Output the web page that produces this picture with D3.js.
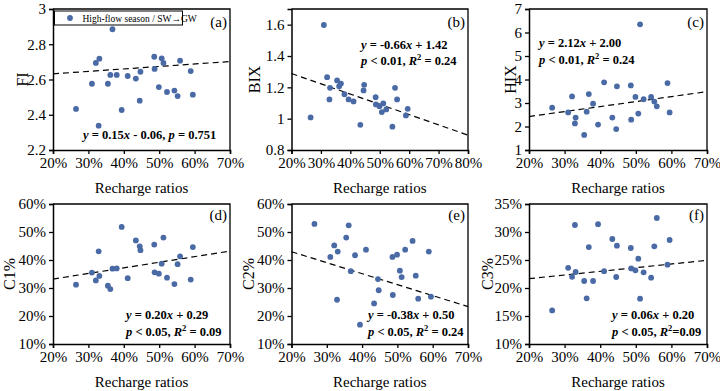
<!DOCTYPE html>
<html>
<head>
<meta charset="utf-8">
<script src="https://cdn.jsdelivr.net/npm/d3@7"></script>
<style>
  body { margin: 0; background: #fff; }
  text { font-family: "Liberation Serif", "Times New Roman", serif; fill: #000; }
</style>
</head>
<body>
<svg id="chart" width="720" height="391"></svg>
<script>
// recharge ratio of each sample (shared by all six panels)
const recharge = [0.265, 0.310, 0.321, 0.329, 0.331, 0.355, 0.362, 0.368, 0.380, 0.394, 0.411, 0.434, 0.445,
                  0.447, 0.486, 0.487, 0.499, 0.507, 0.512, 0.522, 0.543, 0.552, 0.559, 0.589, 0.595];

const fiVals  = [2.433, 2.576, 2.694, 2.338, 2.718, 2.576, 2.626, 2.885, 2.626, 2.427, 2.620, 2.605, 2.480,
                 2.644, 2.729, 2.660, 2.557, 2.720, 2.694, 2.529, 2.537, 2.506, 2.707, 2.648, 2.514];
const bixVals = [1.008, 1.598, 1.265, 1.123, 1.197, 1.244, 1.207, 1.224, 1.156, 1.123, 1.110, 0.961, 1.180,
                 1.216, 1.137, 1.091, 1.080, 1.042, 1.097, 1.059, 0.949, 1.197, 1.123, 1.021, 1.063];
const hixVals = [2.80, 2.60, 3.28, 2.13, 2.38, 1.64, 2.63, 3.38, 2.97, 2.08, 3.88, 2.38, 1.89,
                 3.71, 3.75, 2.29, 3.26, 2.55, 6.35, 3.16, 3.26, 3.06, 2.86, 3.85, 2.60];
const c1Vals  = [0.312, 0.355, 0.327, 0.431, 0.343, 0.308, 0.296, 0.369, 0.370, 0.518, 0.335, 0.470, 0.449,
                 0.435, 0.455, 0.356, 0.351, 0.387, 0.480, 0.337, 0.314, 0.385, 0.413, 0.330, 0.446];
const c2Vals  = [0.529, 0.411, 0.452, 0.258, 0.430, 0.480, 0.524, 0.360, 0.417, 0.169, 0.437, 0.245, 0.332,
                 0.292, 0.411, 0.275, 0.419, 0.362, 0.339, 0.437, 0.468, 0.344, 0.262, 0.430, 0.269];
const c3Vals  = [0.160, 0.236, 0.220, 0.3125, 0.2286, 0.2125, 0.1815, 0.273, 0.2125, 0.314, 0.230, 0.2875, 0.2196,
                 0.2756, 0.2714, 0.235, 0.2315, 0.2524, 0.181, 0.228, 0.2185, 0.2744, 0.325, 0.2417, 0.2857];

// dashed fit lines, as drawn [slope, intercept]
const fitA = [0.14, 2.604];
const fitB = [-0.655, 1.419];
const fitC = [2.12, 2.00];
const fitD = [0.20, 0.292];
const fitE = [-0.392, 0.508];
const fitF = [0.0654, 0.2036];

const xTicks6 = [0.2, 0.3, 0.4, 0.5, 0.6, 0.7];
const xTicks7 = [0.2, 0.3, 0.4, 0.5, 0.6, 0.7, 0.8];

const svg = d3.select('#chart');
const dotColor = '#4a6aa6';
const pct = d3.format('.0%');
const num = d => String(+d.toFixed(2));

const cols = [[53, 230], [291.5, 468], [529, 707]];
const rows = [[9, 150], [204, 344]];

// equation text: arrays of [text, italic, sup]
const panels = [
  { tag: '(a)', col: 0, row: 0, vals: fiVals, ydom: [2.2, 3], yticks: [2.2, 2.4, 2.6, 2.8, 3], yfmt: num,
    xdom: [0.2, 0.7], xticks: xTicks6, title: 'FI', titleX: -31, fit: fitA, eqX: 30, eqY: [130],
    eq: [[['y', 1], [' = 0.15'], ['x', 1], [' - 0.06, '], ['p', 1], [' = 0.751']]] },
  { tag: '(b)', col: 1, row: 0, vals: bixVals, ydom: [0.8, 1.7], yticks: [0.8, 1, 1.2, 1.4, 1.6], yfmt: num,
    xdom: [0.2, 0.8], xticks: xTicks7, title: 'BIX', titleX: -37, fit: fitB, eqX: 69.5, eqY: [40, 56],
    eq: [[['y', 1], [' = -0.66'], ['x', 1], [' + 1.42']],
         [['p', 1], [' < 0.01, '], ['R', 1], ['2', 0, 1], [' = 0.24']]] },
  { tag: '(c)', col: 2, row: 0, vals: hixVals, ydom: [1, 7], yticks: [1, 2, 3, 4, 5, 6, 7], yfmt: num,
    xdom: [0.2, 0.7], xticks: xTicks6, title: 'HIX', titleX: -19, fit: fitC, eqX: 10, eqY: [38, 55],
    eq: [[['y', 1], [' = 2.12'], ['x', 1], [' + 2.00']],
         [['p', 1], [' < 0.01, '], ['R', 1], ['2', 0, 1], [' = 0.24']]] },
  { tag: '(d)', col: 0, row: 1, vals: c1Vals, ydom: [0.1, 0.6], yticks: [0.1, 0.2, 0.3, 0.4, 0.5, 0.6], yfmt: pct,
    xdom: [0.2, 0.7], xticks: xTicks6, title: 'C1%', titleX: -44, fit: fitD, eqX: 73, eqY: [115, 132],
    eq: [[['y', 1], [' = 0.20'], ['x', 1], [' + 0.29']],
         [['p', 1], [' < 0.05, '], ['R', 1], ['2', 0, 1], [' = 0.09']]] },
  { tag: '(e)', col: 1, row: 1, vals: c2Vals, ydom: [0.1, 0.6], yticks: [0.1, 0.2, 0.3, 0.4, 0.5, 0.6], yfmt: pct,
    xdom: [0.2, 0.7], xticks: xTicks6, title: 'C2%', titleX: -43, fit: fitE, eqX: 76.5, eqY: [115, 132],
    eq: [[['y', 1], [' = -0.38'], ['x', 1], [' + 0.50']],
         [['p', 1], [' < 0.05, '], ['R', 1], ['2', 0, 1], [' = 0.24']]] },
  { tag: '(f)', col: 2, row: 1, vals: c3Vals, ydom: [0.1, 0.35], yticks: [0.1, 0.15, 0.2, 0.25, 0.3, 0.35], yfmt: pct,
    xdom: [0.2, 0.7], xticks: xTicks6, title: 'C3%', titleX: -42, fit: fitF, eqX: 83, eqY: [115, 132],
    eq: [[['y', 1], [' = 0.06'], ['x', 1], [' + 0.20']],
         [['p', 1], [' < 0.05, '], ['R', 1], ['2', 0, 1], ['=0.09']]] }
];

panels.forEach(p => {
  const [x0, x1] = cols[p.col];
  const [y0, y1] = rows[p.row];
  const w = x1 - x0, h = y1 - y0;
  const g = svg.append('g').attr('transform', `translate(${x0},${y0})`);

  const x = d3.scaleLinear().domain(p.xdom).range([0, w]);
  const y = d3.scaleLinear().domain(p.ydom).range([h, 0]);

  // frame top/right
  g.append('path')
    .attr('d', `M0,0H${w}V${h}`)
    .attr('fill', 'none').attr('stroke', '#000').attr('stroke-width', 1.3);

  const xa = g.append('g').attr('transform', `translate(0,${h})`)
    .call(d3.axisBottom(x).tickValues(p.xticks).tickFormat(pct).tickSizeOuter(0).tickSize(4).tickPadding(3));
  const ya = g.append('g')
    .call(d3.axisLeft(y).tickValues(p.yticks).tickFormat(p.yfmt).tickSizeOuter(0).tickSize(4).tickPadding(3));
  [xa, ya].forEach(a => {
    a.selectAll('path').attr('stroke-width', 1.5);
    a.selectAll('line').attr('stroke-width', 1.3);
    a.selectAll('text').style('font-family', '"Liberation Serif", serif').style('font-size', '15px');
  });

  // fit line
  g.append('line')
    .attr('x1', x(p.xdom[0])).attr('y1', y(p.fit[0] * p.xdom[0] + p.fit[1]))
    .attr('x2', x(p.xdom[1])).attr('y2', y(p.fit[0] * p.xdom[1] + p.fit[1]))
    .attr('stroke', '#000').attr('stroke-width', 1.2).attr('stroke-dasharray', '6,4');

  g.selectAll('circle.pt').data(recharge).join('circle')
    .attr('class', 'pt')
    .attr('cx', d => x(d))
    .attr('cy', (d, i) => y(p.vals[i]))
    .attr('r', 2.9)
    .attr('fill', dotColor);

  g.append('text').attr('x', w - 3).attr('y', p.row == 0 ? 18 : 16)
    .attr('text-anchor', 'end').style('font-size', '15px').text(p.tag);

  // titles
  g.append('text').attr('transform', `translate(${p.titleX},${h / 2}) rotate(-90)`)
    .attr('text-anchor', 'middle').attr('dy', '0.35em').style('font-size', '16px').text(p.title);
  g.append('text').attr('x', w / 2).attr('y', h + 43)
    .attr('text-anchor', 'middle').style('font-size', '15px').text('Recharge ratios');

  // equation
  p.eq.forEach((line, li) => {
    const t = g.append('text').attr('x', p.eqX).attr('y', p.eqY[li])
      .style('font-size', '12.5px').style('font-weight', 'bold');
    line.forEach(([s, it, sup]) => {
      const ts = t.append('tspan').text(s);
      if (it) ts.style('font-style', 'italic');
      if (sup) ts.attr('baseline-shift', 'super').style('font-size', '8.5px');
    });
  });
});

// legend in panel (a)
const lg = svg.append('g').attr('transform', 'translate(54.5,11)');
lg.append('rect').attr('width', 128).attr('height', 14)
  .attr('fill', '#fff').attr('stroke', '#000').attr('stroke-width', 1);
lg.append('circle').attr('cx', 15.5).attr('cy', 7).attr('r', 2.9).attr('fill', dotColor);
lg.append('text').attr('x', 28).attr('y', 10.5).style('font-size', '9.5px').text('High-flow season / SW\u2192GW');
</script>
</body>
</html>
